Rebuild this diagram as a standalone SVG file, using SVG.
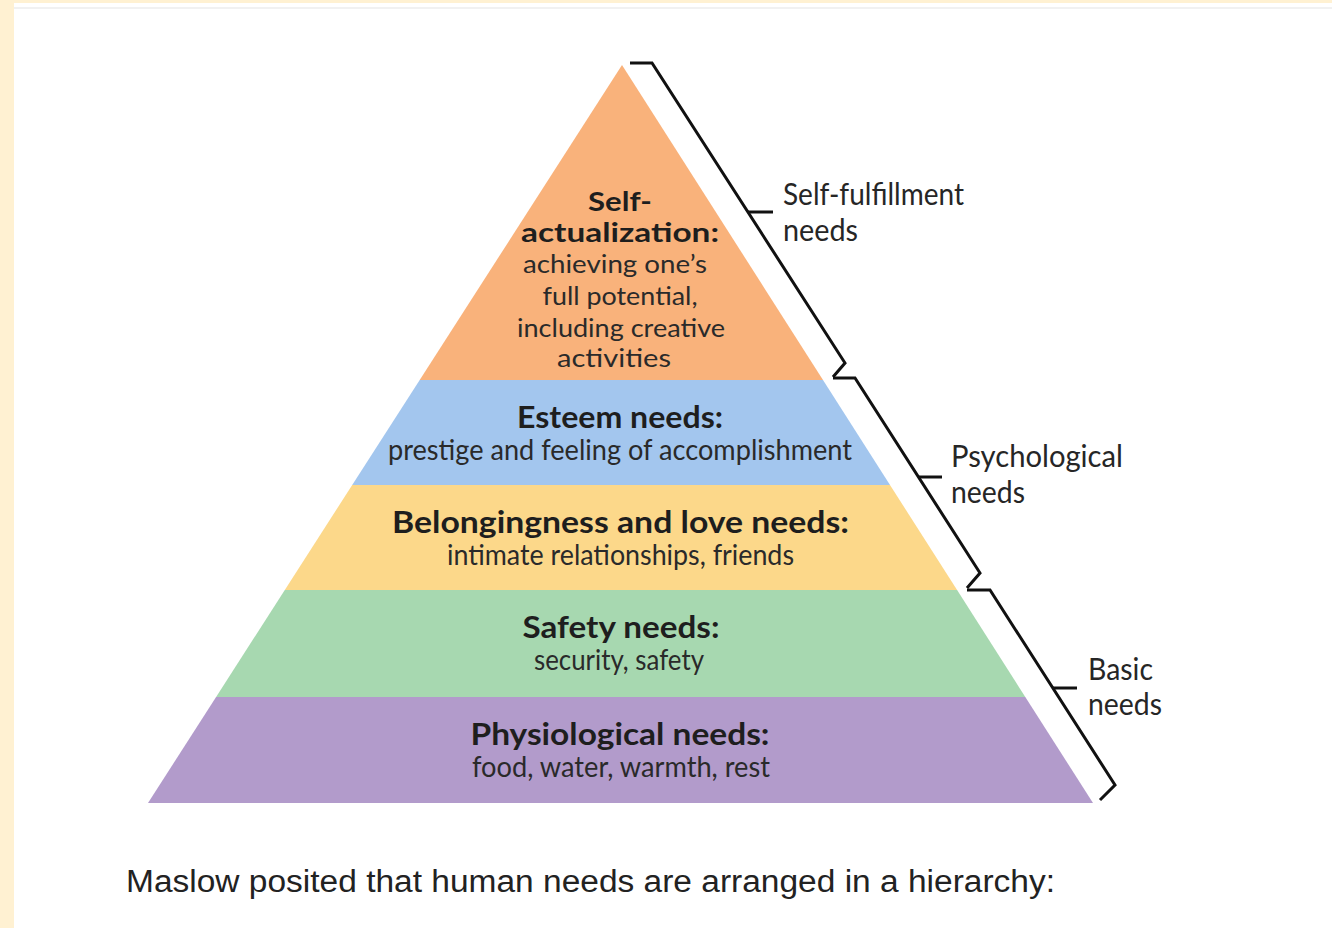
<svg xmlns="http://www.w3.org/2000/svg" width="1332" height="928" viewBox="0 0 1332 928">
<style>
.t{font-family:Lato,"Liberation Sans","DejaVu Sans",sans-serif;text-anchor:middle;fill:#1e1e1e}
.b{font-weight:bold;font-size:30px}
.r{font-size:28px;fill:#2a2a2a}
.bs{font-weight:bold;font-size:27px}
.rs{font-size:25px;fill:#2a2a2a}
.l{font-family:Lato,"Liberation Sans","DejaVu Sans",sans-serif;font-size:30px;fill:#262626}
.br{fill:none;stroke:#111;stroke-width:3;stroke-linejoin:miter;stroke-linecap:butt}
</style>
<rect x="0" y="0" width="1332" height="928" fill="#ffffff"/>
<rect x="0" y="0" width="14" height="928" fill="#fff1d2"/>
<rect x="0" y="0" width="1332" height="3" fill="#fff1d2"/>
<rect x="14" y="7" width="1318" height="2" fill="#f1f1f1"/>

<g id="tier-self-actualization">
<polygon points="622,65 823,380 419.7,380" fill="#f9b27b"/>
<text class="t bs" x="620" y="211" textLength="64" lengthAdjust="spacingAndGlyphs">Self-</text>
<text class="t bs" x="620" y="242" textLength="198" lengthAdjust="spacingAndGlyphs">actualization:</text>
<text class="t rs" x="615" y="273" textLength="184" lengthAdjust="spacingAndGlyphs">achieving one’s</text>
<text class="t rs" x="620" y="305" textLength="155" lengthAdjust="spacingAndGlyphs">full potential,</text>
<text class="t rs" x="621" y="337" textLength="208" lengthAdjust="spacingAndGlyphs">including creative</text>
<text class="t rs" x="614" y="367" textLength="114" lengthAdjust="spacingAndGlyphs">activities</text>
</g>

<g id="tier-esteem">
<polygon points="419.7,380 823,380 890,485 352.2,485" fill="#a3c6ee"/>
<text class="t b" x="620" y="428" textLength="206" lengthAdjust="spacingAndGlyphs">Esteem needs:</text>
<text class="t r" x="620" y="460" textLength="464" lengthAdjust="spacingAndGlyphs">prestige and feeling of accomplishment</text>
</g>

<g id="tier-belongingness">
<polygon points="352.2,485 890,485 957.1,590 284.8,590" fill="#fcd88a"/>
<text class="t b" x="620.5" y="533" textLength="457" lengthAdjust="spacingAndGlyphs">Belongingness and love needs:</text>
<text class="t r" x="620.5" y="565" textLength="347" lengthAdjust="spacingAndGlyphs">intimate relationships, friends</text>
</g>

<g id="tier-safety">
<polygon points="284.8,590 957.1,590 1025.3,697 216.1,697" fill="#a7d8b0"/>
<text class="t b" x="621" y="638" textLength="197" lengthAdjust="spacingAndGlyphs">Safety needs:</text>
<text class="t r" x="619" y="670" textLength="170" lengthAdjust="spacingAndGlyphs">security, safety</text>
</g>

<g id="tier-physiological">
<polygon points="216.1,697 1025.3,697 1093,803 148,803" fill="#b29bcb"/>
<text class="t b" x="620" y="745" textLength="299" lengthAdjust="spacingAndGlyphs">Physiological needs:</text>
<text class="t r" x="621" y="777" textLength="298" lengthAdjust="spacingAndGlyphs">food, water, warmth, rest</text>
</g>

<g id="connectors">
<path class="br" d="M630,63 L652,63 L845,363 L833,377"/>
<path class="br" d="M748,212 L773,212"/>
<path class="br" d="M833,378 L855,378 L980,573 L967,588"/>
<path class="br" d="M918,477 L942,477"/>
<path class="br" d="M967,590 L990,590 L1115,785 L1100,800"/>
<path class="br" d="M1053,688 L1077,688"/>
</g>

<g id="label-self-fulfillment">
<text class="l" x="783" y="205" textLength="181" lengthAdjust="spacingAndGlyphs">Self-fulfillment</text>
<text class="l" x="783" y="241" textLength="75" lengthAdjust="spacingAndGlyphs">needs</text>
</g>
<g id="label-psychological">
<text class="l" x="951" y="467" textLength="172" lengthAdjust="spacingAndGlyphs">Psychological</text>
<text class="l" x="951" y="503" textLength="74" lengthAdjust="spacingAndGlyphs">needs</text>
</g>
<g id="label-basic">
<text class="l" x="1088" y="680" textLength="65" lengthAdjust="spacingAndGlyphs">Basic</text>
<text class="l" x="1088" y="715" textLength="74" lengthAdjust="spacingAndGlyphs">needs</text>
</g>

<g id="caption">
<text x="126" y="892" font-family="'Liberation Sans',Arial,sans-serif" font-size="31" fill="#222" textLength="929" lengthAdjust="spacingAndGlyphs">Maslow posited that human needs are arranged in a hierarchy:</text>
</g>
</svg>
